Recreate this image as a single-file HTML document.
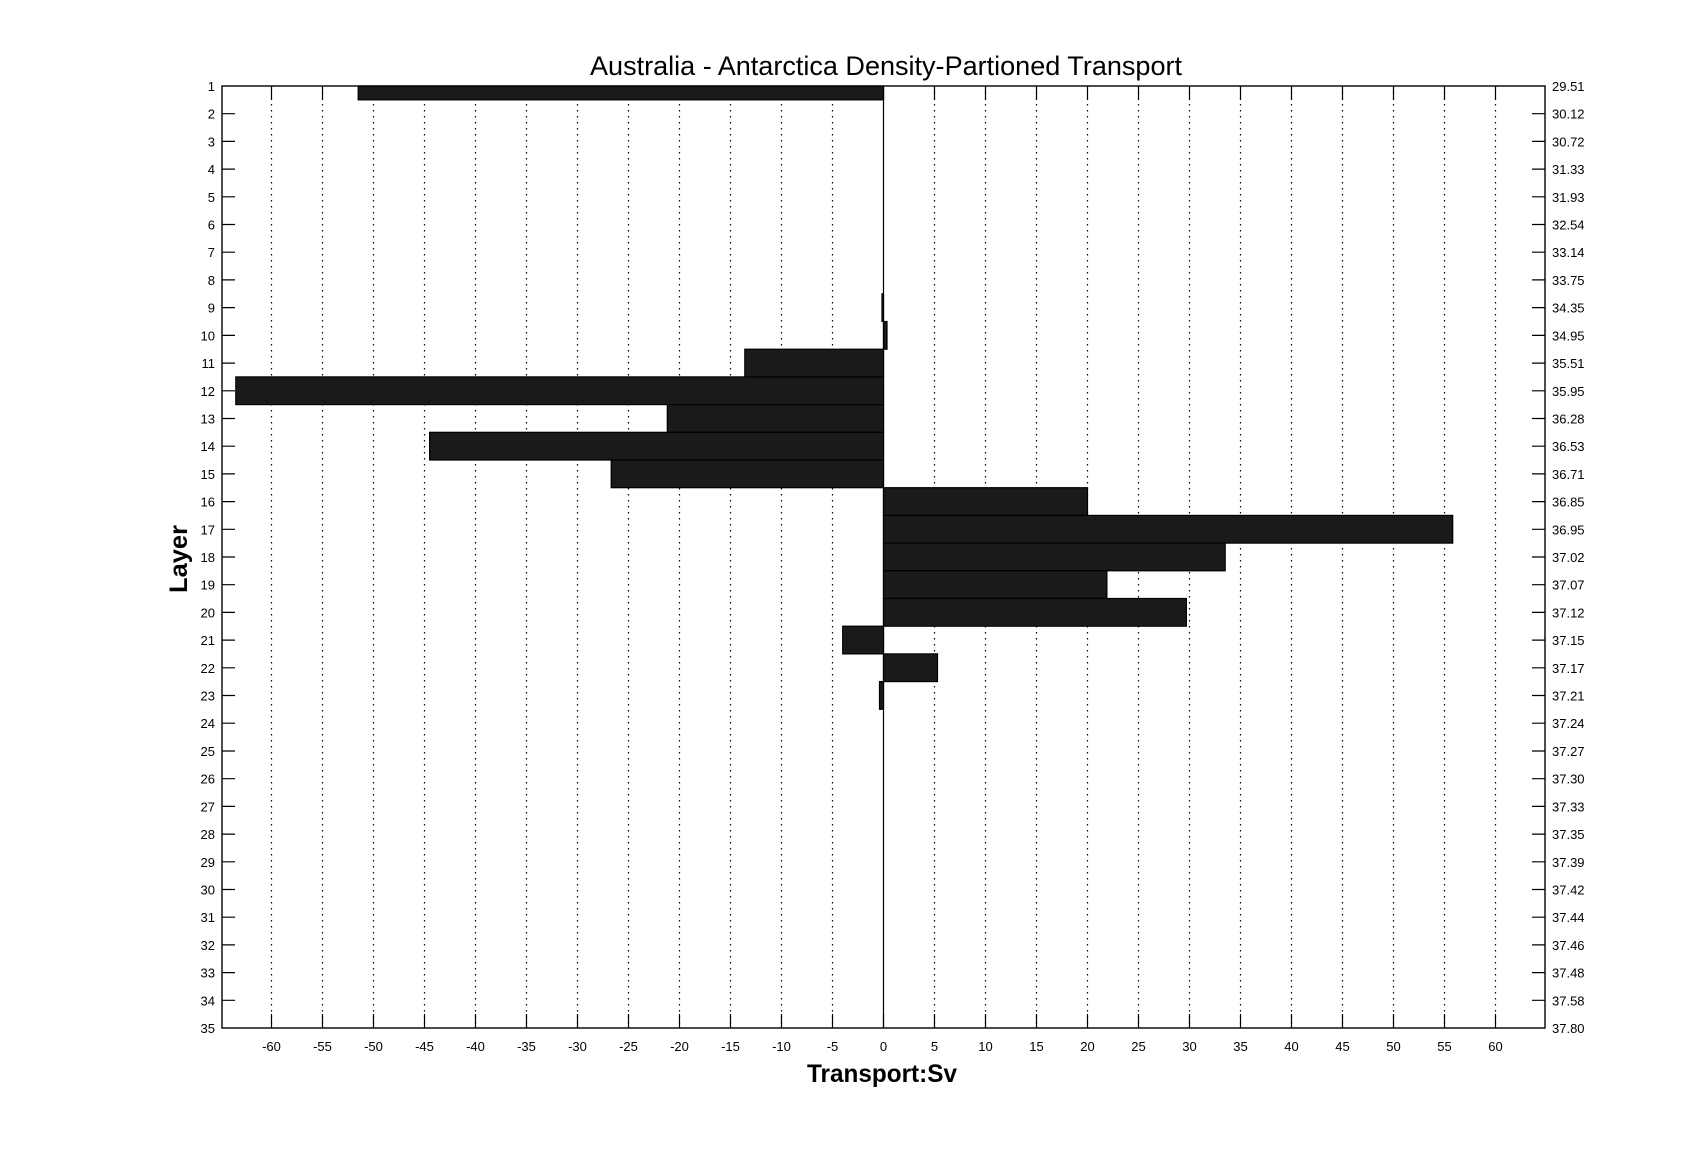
<!DOCTYPE html>
<html><head><meta charset="utf-8"><style>
html,body{margin:0;padding:0;background:#fff;}
svg text{font-family:"Liberation Sans",sans-serif;}
.t{font-size:13px;fill:#000;}
</style></head><body>
<svg width="1707" height="1155" viewBox="0 0 1707 1155" xmlns="http://www.w3.org/2000/svg">
<rect width="1707" height="1155" fill="#fff"/>
<text x="886" y="75" font-size="27" text-anchor="middle" textLength="592" lengthAdjust="spacingAndGlyphs">Australia - Antarctica Density-Partioned Transport</text>
<g stroke="#000" stroke-width="1.2" stroke-dasharray="1.5,4.5">
<line x1="271.5" y1="86" x2="271.5" y2="1028"/><line x1="322.5" y1="86" x2="322.5" y2="1028"/><line x1="373.5" y1="86" x2="373.5" y2="1028"/><line x1="424.5" y1="86" x2="424.5" y2="1028"/><line x1="475.5" y1="86" x2="475.5" y2="1028"/><line x1="526.5" y1="86" x2="526.5" y2="1028"/><line x1="577.5" y1="86" x2="577.5" y2="1028"/><line x1="628.5" y1="86" x2="628.5" y2="1028"/><line x1="679.5" y1="86" x2="679.5" y2="1028"/><line x1="730.5" y1="86" x2="730.5" y2="1028"/><line x1="781.5" y1="86" x2="781.5" y2="1028"/><line x1="832.5" y1="86" x2="832.5" y2="1028"/><line x1="934.5" y1="86" x2="934.5" y2="1028"/><line x1="985.5" y1="86" x2="985.5" y2="1028"/><line x1="1036.5" y1="86" x2="1036.5" y2="1028"/><line x1="1087.5" y1="86" x2="1087.5" y2="1028"/><line x1="1138.5" y1="86" x2="1138.5" y2="1028"/><line x1="1189.5" y1="86" x2="1189.5" y2="1028"/><line x1="1240.5" y1="86" x2="1240.5" y2="1028"/><line x1="1291.5" y1="86" x2="1291.5" y2="1028"/><line x1="1342.5" y1="86" x2="1342.5" y2="1028"/><line x1="1393.5" y1="86" x2="1393.5" y2="1028"/><line x1="1444.5" y1="86" x2="1444.5" y2="1028"/><line x1="1495.5" y1="86" x2="1495.5" y2="1028"/>
</g>
<line x1="883.5" y1="86" x2="883.5" y2="1028" stroke="#000" stroke-width="1.2"/>
<g stroke="#000" stroke-width="1.2">
<path d="M271.5 1028v-14M322.5 1028v-14M373.5 1028v-14M424.5 1028v-14M475.5 1028v-14M526.5 1028v-14M577.5 1028v-14M628.5 1028v-14M679.5 1028v-14M730.5 1028v-14M781.5 1028v-14M832.5 1028v-14M883.5 1028v-14M934.5 1028v-14M985.5 1028v-14M1036.5 1028v-14M1087.5 1028v-14M1138.5 1028v-14M1189.5 1028v-14M1240.5 1028v-14M1291.5 1028v-14M1342.5 1028v-14M1393.5 1028v-14M1444.5 1028v-14M1495.5 1028v-14"/>
<path d="M271.5 86v14M322.5 86v14M373.5 86v14M424.5 86v14M475.5 86v14M526.5 86v14M577.5 86v14M628.5 86v14M679.5 86v14M730.5 86v14M781.5 86v14M832.5 86v14M883.5 86v14M934.5 86v14M985.5 86v14M1036.5 86v14M1087.5 86v14M1138.5 86v14M1189.5 86v14M1240.5 86v14M1291.5 86v14M1342.5 86v14M1393.5 86v14M1444.5 86v14M1495.5 86v14"/>
</g>
<g fill="#1a1a1a" stroke="#000" stroke-width="1.2">
<rect x="358.2" y="86" width="525.3" height="13.85"/>
<rect x="882" y="293.8" width="1.5" height="27.7"/>
<rect x="883.5" y="321.5" width="3.5" height="27.7"/>
<rect x="744.8" y="349.2" width="138.7" height="27.7"/>
<rect x="235.8" y="376.9" width="647.7" height="27.7"/>
<rect x="667.3" y="404.6" width="216.2" height="27.7"/>
<rect x="429.6" y="432.3" width="453.9" height="27.7"/>
<rect x="611.2" y="460" width="272.3" height="27.7"/>
<rect x="883.5" y="487.7" width="204" height="27.7"/>
<rect x="883.5" y="515.4" width="569.2" height="27.7"/>
<rect x="883.5" y="543.1" width="341.7" height="27.7"/>
<rect x="883.5" y="570.8" width="223.4" height="27.7"/>
<rect x="883.5" y="598.5" width="302.9" height="27.7"/>
<rect x="842.7" y="626.2" width="40.8" height="27.7"/>
<rect x="883.5" y="653.9" width="54" height="27.7"/>
<rect x="879.5" y="681.6" width="4" height="27.7"/>
</g>
<rect x="222" y="86" width="1323" height="942" fill="none" stroke="#000" stroke-width="1.4"/>
<g stroke="#000" stroke-width="1.2">
<path d="M222 113.7h13M222 141.4h13M222 169.1h13M222 196.8h13M222 224.5h13M222 252.2h13M222 279.9h13M222 307.6h13M222 335.4h13M222 363.1h13M222 390.8h13M222 418.5h13M222 446.2h13M222 473.9h13M222 501.6h13M222 529.3h13M222 557h13M222 584.7h13M222 612.4h13M222 640.1h13M222 667.8h13M222 695.5h13M222 723.2h13M222 751h13M222 778.7h13M222 806.4h13M222 834.1h13M222 861.8h13M222 889.5h13M222 917.2h13M222 944.9h13M222 972.6h13M222 1000.3h13"/>
<path d="M1545 113.7h-13M1545 141.4h-13M1545 169.1h-13M1545 196.8h-13M1545 224.5h-13M1545 252.2h-13M1545 279.9h-13M1545 307.6h-13M1545 335.4h-13M1545 363.1h-13M1545 390.8h-13M1545 418.5h-13M1545 446.2h-13M1545 473.9h-13M1545 501.6h-13M1545 529.3h-13M1545 557h-13M1545 584.7h-13M1545 612.4h-13M1545 640.1h-13M1545 667.8h-13M1545 695.5h-13M1545 723.2h-13M1545 751h-13M1545 778.7h-13M1545 806.4h-13M1545 834.1h-13M1545 861.8h-13M1545 889.5h-13M1545 917.2h-13M1545 944.9h-13M1545 972.6h-13M1545 1000.3h-13"/>
</g>
<g class="t" text-anchor="middle">
<text x="271.5" y="1051">-60</text><text x="322.5" y="1051">-55</text><text x="373.5" y="1051">-50</text><text x="424.5" y="1051">-45</text><text x="475.5" y="1051">-40</text><text x="526.5" y="1051">-35</text><text x="577.5" y="1051">-30</text><text x="628.5" y="1051">-25</text><text x="679.5" y="1051">-20</text><text x="730.5" y="1051">-15</text><text x="781.5" y="1051">-10</text><text x="832.5" y="1051">-5</text><text x="883.5" y="1051">0</text><text x="934.5" y="1051">5</text><text x="985.5" y="1051">10</text><text x="1036.5" y="1051">15</text><text x="1087.5" y="1051">20</text><text x="1138.5" y="1051">25</text><text x="1189.5" y="1051">30</text><text x="1240.5" y="1051">35</text><text x="1291.5" y="1051">40</text><text x="1342.5" y="1051">45</text><text x="1393.5" y="1051">50</text><text x="1444.5" y="1051">55</text><text x="1495.5" y="1051">60</text>
</g>
<g class="t" text-anchor="end">
<text x="215" y="91">1</text><text x="215" y="118.7">2</text><text x="215" y="146.4">3</text><text x="215" y="174.1">4</text><text x="215" y="201.8">5</text><text x="215" y="229.5">6</text><text x="215" y="257.2">7</text><text x="215" y="284.9">8</text><text x="215" y="312.6">9</text><text x="215" y="340.4">10</text><text x="215" y="368.1">11</text><text x="215" y="395.8">12</text><text x="215" y="423.5">13</text><text x="215" y="451.2">14</text><text x="215" y="478.9">15</text><text x="215" y="506.6">16</text><text x="215" y="534.3">17</text><text x="215" y="562">18</text><text x="215" y="589.7">19</text><text x="215" y="617.4">20</text><text x="215" y="645.1">21</text><text x="215" y="672.8">22</text><text x="215" y="700.5">23</text><text x="215" y="728.2">24</text><text x="215" y="756">25</text><text x="215" y="783.7">26</text><text x="215" y="811.4">27</text><text x="215" y="839.1">28</text><text x="215" y="866.8">29</text><text x="215" y="894.5">30</text><text x="215" y="922.2">31</text><text x="215" y="949.9">32</text><text x="215" y="977.6">33</text><text x="215" y="1005.3">34</text><text x="215" y="1033">35</text>
</g>
<g class="t">
<text x="1552" y="91">29.51</text><text x="1552" y="118.7">30.12</text><text x="1552" y="146.4">30.72</text><text x="1552" y="174.1">31.33</text><text x="1552" y="201.8">31.93</text><text x="1552" y="229.5">32.54</text><text x="1552" y="257.2">33.14</text><text x="1552" y="284.9">33.75</text><text x="1552" y="312.6">34.35</text><text x="1552" y="340.4">34.95</text><text x="1552" y="368.1">35.51</text><text x="1552" y="395.8">35.95</text><text x="1552" y="423.5">36.28</text><text x="1552" y="451.2">36.53</text><text x="1552" y="478.9">36.71</text><text x="1552" y="506.6">36.85</text><text x="1552" y="534.3">36.95</text><text x="1552" y="562">37.02</text><text x="1552" y="589.7">37.07</text><text x="1552" y="617.4">37.12</text><text x="1552" y="645.1">37.15</text><text x="1552" y="672.8">37.17</text><text x="1552" y="700.5">37.21</text><text x="1552" y="728.2">37.24</text><text x="1552" y="756">37.27</text><text x="1552" y="783.7">37.30</text><text x="1552" y="811.4">37.33</text><text x="1552" y="839.1">37.35</text><text x="1552" y="866.8">37.39</text><text x="1552" y="894.5">37.42</text><text x="1552" y="922.2">37.44</text><text x="1552" y="949.9">37.46</text><text x="1552" y="977.6">37.48</text><text x="1552" y="1005.3">37.58</text><text x="1552" y="1033">37.80</text>
</g>
<text x="882" y="1082" font-size="25" font-weight="bold" text-anchor="middle" textLength="150" lengthAdjust="spacingAndGlyphs">Transport:Sv</text>
<text x="0" y="0" font-size="25" font-weight="bold" text-anchor="middle" transform="translate(187,559) rotate(-90)" textLength="68" lengthAdjust="spacingAndGlyphs">Layer</text>
</svg>
</body></html>
